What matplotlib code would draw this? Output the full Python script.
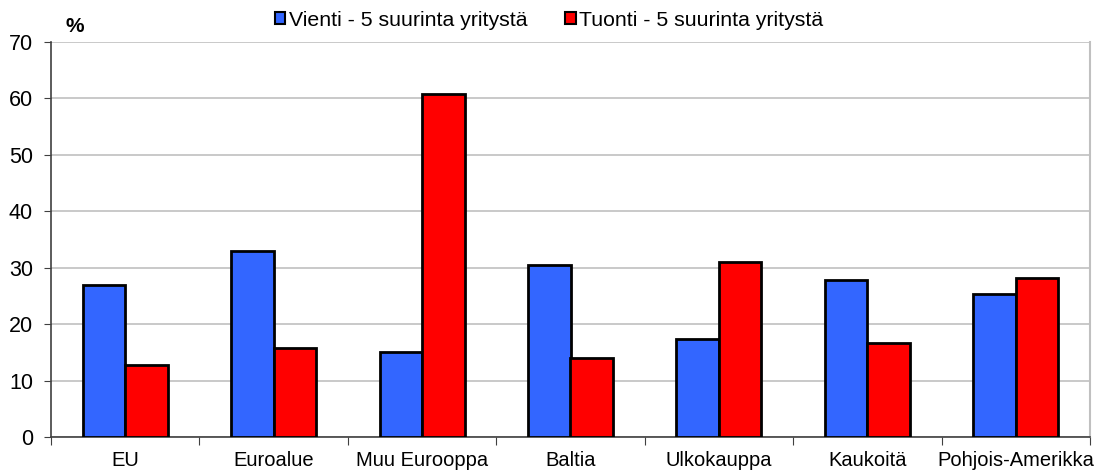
import matplotlib.pyplot as plt
import numpy as np
from matplotlib.patches import Patch

categories = ["EU", "Euroalue", "Muu Eurooppa", "Baltia", "Ulkokauppa", "Kaukoitä", "Pohjois-Amerikka"]
vienti = [27.0, 32.9, 15.0, 30.4, 17.4, 27.8, 25.4]
tuonti = [12.8, 15.7, 60.7, 14.0, 31.0, 16.7, 28.2]
series_labels = ["Vienti - 5 suurinta yritystä", "Tuonti - 5 suurinta yritystä"]

plt.rcParams["font.family"] = ["Liberation Sans", "DejaVu Sans"]

fig = plt.figure(figsize=(11.07, 4.72), dpi=100)
ax = fig.add_axes([51 / 1107, 35 / 472, 1039 / 1107, 395 / 472])

x = np.arange(len(categories))
w = 0.286
ax.bar(x - w / 2, vienti, w, color="#3366ff", edgecolor="black", linewidth=2, zorder=3)
ax.bar(x + w / 2, tuonti, w, color="#ff0000", edgecolor="black", linewidth=2, zorder=3)

ax.set_xlim(-0.5, len(categories) - 0.5)
ax.set_ylim(0, 70)
ax.set_yticks(range(0, 71, 10))
ax.yaxis.grid(True, color="#c0c0c0", linewidth=1.2, zorder=0)

# category labels centred, ticks on the boundaries
ax.set_xticks(np.arange(-0.5, len(categories), 1.0))
ax.set_xticklabels([])
ax.set_xticks(x, minor=True)
ax.set_xticklabels(categories, minor=True, fontsize=14.5)
ax.tick_params(axis="x", which="minor", length=0, pad=10)
ax.tick_params(axis="x", which="major", length=6, color="#404040", direction="out")
ax.tick_params(axis="y", length=5, color="#404040", labelsize=15.5, pad=8)

for side in ["left", "bottom"]:
    ax.spines[side].set_color("#404040")
    ax.spines[side].set_linewidth(1.2)
ax.spines["top"].set_visible(False)
ax.spines["right"].set_color("#c0c0c0")
ax.spines["right"].set_linewidth(1.5)

fig.text(65 / 1107, 1 - 26 / 472, "%", fontsize=15, fontweight="bold", va="center")

handles = [
    Patch(facecolor="#3366ff", edgecolor="black", linewidth=1.5),
    Patch(facecolor="#ff0000", edgecolor="black", linewidth=1.5),
]
fig.legend(handles, series_labels, loc="center", bbox_to_anchor=(549 / 1107, 1 - 20 / 472),
           ncol=2, frameon=False, fontsize=15.3, handlelength=0.5, handleheight=0.5,
           handletextpad=0.15, columnspacing=1.8)

fig.savefig("out.png", dpi=100)
